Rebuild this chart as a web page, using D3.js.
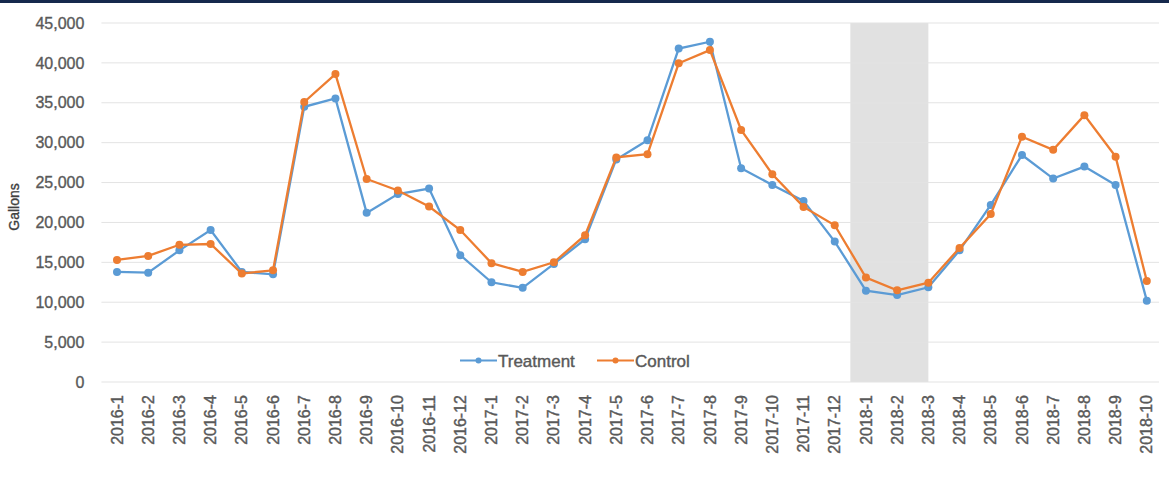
<!DOCTYPE html>
<html><head><meta charset="utf-8">
<script src="https://cdn.jsdelivr.net/npm/d3@7"></script>
<style>body{margin:0;background:#fff;}svg{display:block;}</style>
</head><body>
<svg id="c" width="1169" height="480"></svg>
<script>
const categories = ["2016-1","2016-2","2016-3","2016-4","2016-5","2016-6","2016-7","2016-8","2016-9","2016-10","2016-11","2016-12",
"2017-1","2017-2","2017-3","2017-4","2017-5","2017-6","2017-7","2017-8","2017-9","2017-10","2017-11","2017-12",
"2018-1","2018-2","2018-3","2018-4","2018-5","2018-6","2018-7","2018-8","2018-9","2018-10"];
const treatment = [13800,13700,16500,19050,13800,13500,34500,35550,21200,23550,24250,15900,
12500,11800,14800,17900,27900,30300,41800,42650,26800,24700,22700,17600,
11450,10900,11870,16500,22200,28450,25500,27000,24700,10200];
const control = [15300,15800,17200,17300,13600,14000,35100,38600,25450,24000,22000,19050,
14900,13800,15000,18400,28150,28550,39950,41600,31600,26050,21950,19650,
13100,11500,12450,16800,21050,30750,29100,33450,28250,12650];
const yTicks = [0,5000,10000,15000,20000,25000,30000,35000,40000,45000];
const shadeFrom = "2017-12", shadeTo = "2018-3";

(function(){
const svg = d3.select("#c");
const FONT = "Liberation Sans, Arial, sans-serif";
const pLeft = 101.4, pRight = 1162.4, pTop = 23, pBottom = 382;
const x = d3.scaleBand().domain(categories).range([pLeft, pRight]);
const cx = d => x(d) + x.bandwidth()/2;
const y = d3.scaleLinear().domain([0,45000]).range([pBottom, pTop]);

svg.append("rect").attr("x",0).attr("y",0).attr("width",1169).attr("height",3).attr("fill","#16294d");

svg.append("rect").attr("x", x(shadeFrom)+x.bandwidth()).attr("y", y(45000))
  .attr("width", cx(shadeTo) - (x(shadeFrom)+x.bandwidth())).attr("height", y(0)-y(45000))
  .attr("fill","#e1e1e1");

svg.append("g").selectAll("line").data(yTicks).join("line")
  .attr("x1", pLeft).attr("x2", 1159).attr("y1", d=>y(d)).attr("y2", d=>y(d))
  .attr("stroke","#e3e3e3").attr("stroke-width",1);

const ya = svg.append("g").attr("transform",`translate(${pLeft},0)`)
  .call(d3.axisLeft(y).tickValues(yTicks).tickFormat(d3.format(",")).tickSize(0).tickPadding(17));
ya.select(".domain").remove();
ya.selectAll("text").attr("font-family",FONT).attr("font-size","16px").attr("fill","#595959")
  .attr("stroke","#595959").attr("stroke-width",0.35);

const xa = svg.append("g").attr("transform",`translate(0,${pBottom})`)
  .call(d3.axisBottom(x).tickSize(0).tickPadding(0));
xa.select(".domain").remove();
xa.selectAll("text").attr("font-family",FONT).attr("font-size","16px")
  .attr("fill","#595959").attr("stroke","#595959").attr("stroke-width",0.4)
  .attr("transform","translate(0,13) rotate(-90)").attr("text-anchor","end").attr("dx","0").attr("dy","0.35em").attr("y",0);

svg.append("text").attr("transform","translate(19,207) rotate(-90)").attr("text-anchor","middle")
  .attr("font-family",FONT).attr("font-size","14px")
  .attr("fill","#404040").attr("stroke","#404040").attr("stroke-width",0.35).text("Gallons");

const series = [{name:"Treatment", vals:treatment, color:"#5b9bd5"},{name:"Control", vals:control, color:"#ed7d31"}];
const line = d3.line().x((d,i)=>cx(categories[i])).y(d=>y(d));
series.forEach(s=>{
  svg.append("path").datum(s.vals).attr("d", line).attr("fill","none").attr("stroke",s.color).attr("stroke-width",2.3);
  svg.append("g").selectAll("circle").data(s.vals).join("circle")
    .attr("cx",(d,i)=>cx(categories[i])).attr("cy",d=>y(d)).attr("r",4).attr("fill",s.color);
});

const lg = svg.append("g").attr("transform","translate(460,360.5)");
const lx = [0, 137];
series.forEach((s,i)=>{
  const g = lg.append("g").attr("transform",`translate(${lx[i]},0)`);
  g.append("line").attr("x1",0).attr("x2",37).attr("y1",0).attr("y2",0).attr("stroke",s.color).attr("stroke-width",2);
  g.append("circle").attr("cx",18.5).attr("cy",0).attr("r",3).attr("fill",s.color);
  g.append("text").attr("x",38).attr("y",6).attr("font-family",FONT)
    .attr("font-size","17px").attr("fill","#595959").attr("stroke","#595959").attr("stroke-width",0.4).text(s.name);
});
})();
</script>
</body></html>
